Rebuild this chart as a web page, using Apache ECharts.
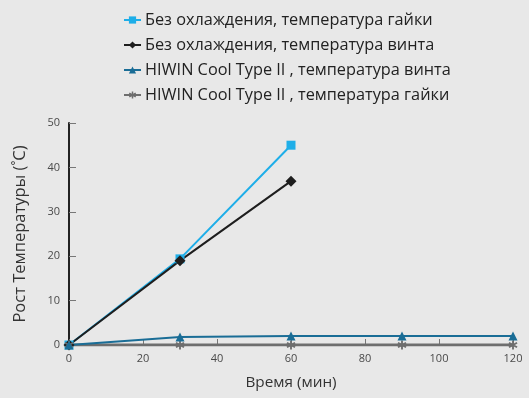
<!DOCTYPE html>
<html><head><meta charset="utf-8">
<script src="https://cdn.jsdelivr.net/npm/echarts@6/dist/echarts.min.js"></script>
<style>html,body{margin:0;padding:0;background:#e8e8e8;}#c{width:529px;height:398px;}</style>
</head><body><div id="c"></div>
<script>
const seriesNames = [
  'Без охлаждения, температура гайки',
  'Без охлаждения, температура винта',
  'HIWIN Cool Type II , температура винта',
  'HIWIN Cool Type II , температура гайки'
];
const timesNoCool = [0, 30, 60];
const nutNoCool = [0, 19.4, 45];
const screwNoCool = [0, 19, 36.9];
const timesCool = [0, 30, 60, 90, 120];
const screwCool = [0, 1.8, 2.0, 2.0, 2.0];
const nutCool = [0, 0, 0, 0, 0];
const xTitle = 'Время (мин)';
const yTitle = 'Рост Температуры (˚C)';

const star = 'path://M-1,-5L1,-5L1,5L-1,5Z M3.83,-3.37L4.83,-1.63L-3.83,3.37L-4.83,1.63Z M-4.83,-1.63L-3.83,-3.37L4.83,1.63L3.83,3.37Z';
const pairs = (xs, ys) => xs.map((x, i) => [x, ys[i]]);
const font = 'Open Sans';

const chart = echarts.init(document.getElementById('c'));
chart.setOption({
  backgroundColor: '#e8e8e8',
  animation: false,
  textStyle: { fontFamily: font },
  legend: {
    orient: 'vertical', left: 118, top: 7, itemWidth: 17, itemHeight: 9, itemGap: 9,
    textStyle: { fontSize: 16.3, color: '#222', fontFamily: font, lineHeight: 16, padding: [0, 0, 0, -1] },
    data: seriesNames
  },
  grid: { left: 69, right: 16, top: 123, bottom: 53, containLabel: false },
  xAxis: {
    type: 'value', min: 0, max: 120, interval: 20,
    name: xTitle, nameLocation: 'middle', nameGap: 30,
    nameTextStyle: { fontSize: 15.3, color: '#333', fontFamily: font },
    axisLine: { lineStyle: { color: '#555', width: 2 } },
    axisTick: { inside: true, length: 6, lineStyle: { color: '#777' } },
    axisLabel: { fontSize: 11, color: '#4a4a4a', margin: 8 },
    splitLine: { show: false }
  },
  yAxis: {
    type: 'value', min: 0, max: 50, interval: 10,
    name: yTitle, nameLocation: 'middle', nameGap: 40,
    nameTextStyle: { fontSize: 16.5, color: '#333', fontFamily: font },
    axisLine: { show: true, lineStyle: { color: '#222', width: 2 } },
    axisTick: { show: true, inside: true, length: 7, lineStyle: { color: '#777' } },
    axisLabel: { fontSize: 11, color: '#4a4a4a', margin: 9 },
    splitLine: { show: false }
  },
  series: [
    { name: seriesNames[0], type: 'line', data: pairs(timesNoCool, nutNoCool),
      symbol: 'rect', symbolSize: 9, color: '#1eaee8', lineStyle: { width: 2 } },
    { name: seriesNames[1], type: 'line', data: pairs(timesNoCool, screwNoCool),
      symbol: 'diamond', symbolSize: 11, color: '#1e1e1e', lineStyle: { width: 2 } },
    { name: seriesNames[3], type: 'line', data: pairs(timesCool, nutCool),
      symbol: star, symbolSize: 9, color: '#6e6e6e', lineStyle: { width: 3 } },
    { name: seriesNames[2], type: 'line', data: pairs(timesCool, screwCool),
      symbol: 'triangle', symbolSize: 9, color: '#1a6d96', lineStyle: { width: 2 } }
  ]
});
</script></body></html>
